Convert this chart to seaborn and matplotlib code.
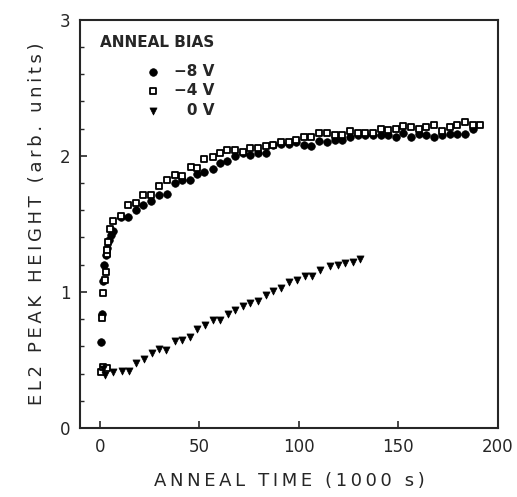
import matplotlib
matplotlib.use("Agg")
import matplotlib.pyplot as plt
from matplotlib.ticker import MultipleLocator
import seaborn as sns

# anneal time (1000 s) and EL2 peak height for each bias
t_m8 = [0.3, 1.2, 1.7, 2.2, 3.0, 3.6, 4.5, 5.5, 6.7, 10.5, 14.0, 18.0, 21.7, 25.5,
        29.5, 33.5, 37.5, 41.0, 45.0, 48.7, 52.5, 56.7, 60.5, 64.0, 68.0, 71.7,
        75.5, 79.5, 83.3, 87.0, 91.0, 95.0, 98.7, 102.5, 106.3, 110.3, 114.0,
        118.0, 121.7, 125.7, 129.5, 133.3, 137.0, 141.0, 145.0, 148.7, 152.5,
        156.3, 160.3, 164.0, 168.0, 171.7, 175.8, 179.7, 183.7, 187.5]
h_m8 = [0.63, 0.84, 1.08, 1.20, 1.27, 1.32, 1.38, 1.42, 1.45, 1.55, 1.55, 1.60,
        1.64, 1.67, 1.71, 1.72, 1.80, 1.82, 1.82, 1.87, 1.88, 1.90, 1.95, 1.96,
        2.00, 2.02, 2.01, 2.02, 2.02, 2.08, 2.09, 2.09, 2.10, 2.08, 2.07, 2.11,
        2.10, 2.12, 2.12, 2.14, 2.15, 2.15, 2.15, 2.15, 2.15, 2.14, 2.17, 2.14,
        2.16, 2.15, 2.14, 2.15, 2.16, 2.16, 2.16, 2.20]

t_m4 = [0.3, 1.5, 3.3, 1.2, 1.3, 2.5, 3.0, 3.3, 3.6, 4.0, 5.0, 6.5, 10.5, 14.3,
        18.0, 21.7, 25.8, 29.7, 33.7, 37.5, 41.0, 45.5, 48.7, 52.5, 56.7, 60.5,
        64.0, 68.0, 71.7, 75.5, 79.5, 83.3, 87.0, 91.0, 95.0, 98.7, 102.5, 106.3,
        110.3, 114.0, 118.0, 121.7, 125.7, 129.5, 133.3, 137.0, 141.0, 145.0,
        148.7, 152.5, 156.3, 160.3, 164.0, 168.0, 171.7, 175.8, 179.7, 183.7,
        187.5, 191.2]
h_m4 = [0.41, 0.45, 0.44, 0.81, 0.99, 1.09, 1.15, 1.28, 1.31, 1.37, 1.46, 1.52,
        1.56, 1.64, 1.65, 1.71, 1.71, 1.78, 1.82, 1.86, 1.85, 1.92, 1.91, 1.98,
        1.99, 2.02, 2.04, 2.04, 2.03, 2.06, 2.06, 2.07, 2.08, 2.10, 2.10, 2.12,
        2.14, 2.14, 2.17, 2.17, 2.15, 2.15, 2.18, 2.17, 2.17, 2.17, 2.20, 2.19,
        2.20, 2.22, 2.21, 2.20, 2.21, 2.23, 2.18, 2.21, 2.23, 2.25, 2.23, 2.23]

t_0 = [1.5, 2.5, 6.7, 10.8, 14.7, 18.3, 22.2, 26.0, 29.7, 33.3, 37.5, 41.3, 45.0,
       48.8, 52.7, 56.7, 60.4, 64.2, 68.0, 71.7, 75.5, 79.5, 83.3, 87.0, 91.0,
       95.0, 98.8, 102.8, 106.7, 110.5, 115.8, 119.7, 123.3, 127.2, 130.8]
h_0 = [0.43, 0.39, 0.41, 0.42, 0.42, 0.48, 0.51, 0.55, 0.58, 0.57, 0.64, 0.65,
       0.67, 0.73, 0.76, 0.79, 0.79, 0.84, 0.87, 0.90, 0.92, 0.93, 0.98, 1.01,
       1.03, 1.07, 1.09, 1.12, 1.12, 1.16, 1.19, 1.20, 1.21, 1.22, 1.24]

bias_labels = ["\u22128 V", "\u22124 V", "\u2002 0 V"]
legend_title = "ANNEAL BIAS"
x_label = "ANNEAL TIME (1000 s)"
y_label = "EL2 PEAK HEIGHT (arb. units)"


def spaced(s):
    # the original lettering is widely tracked
    return "\u2009".join(s)


sns.set_style("ticks")
plt.rcParams["font.family"] = ["DejaVu Sans"]

fig, ax = plt.subplots(figsize=(5.17, 4.97), dpi=100)
fig.subplots_adjust(left=0.155, right=0.963, top=0.96, bottom=0.139)

sns.scatterplot(x=t_m8, y=h_m8, ax=ax, marker="o", s=30, color="black",
                edgecolor="black", linewidth=0.5, label=bias_labels[0])
sns.scatterplot(x=t_m4, y=h_m4, ax=ax, marker="s", s=20, facecolor="white",
                edgecolor="black", linewidth=1.3, label=bias_labels[1])
sns.scatterplot(x=t_0, y=h_0, ax=ax, marker="v", s=26, color="black",
                edgecolor="black", linewidth=0.5, label=bias_labels[2])

ax.set_xlim(-10, 200)
ax.set_ylim(0, 3)
ax.set_xticks([0, 50, 100, 150, 200])
ax.set_yticks([0, 1, 2, 3])
ax.yaxis.set_minor_locator(MultipleLocator(0.2))
ax.tick_params(direction="in", length=5, width=1.2, labelsize=12, pad=7)
ax.tick_params(which="minor", direction="in", length=3, width=1.0)
for sp in ax.spines.values():
    sp.set_linewidth(1.5)

ax.set_xlabel(spaced(x_label), fontsize=13, labelpad=12)
ax.set_ylabel(spaced(y_label), fontsize=13, labelpad=10)

ax.text(0.048, 0.944, legend_title, transform=ax.transAxes, fontsize=11,
        fontweight="bold", ha="left", va="center")
leg = ax.legend(loc="upper left", bbox_to_anchor=(0.123, 0.908), frameon=False,
                fontsize=11, handlelength=2, handletextpad=0.35,
                labelspacing=0.31, borderaxespad=0)
for txt in leg.get_texts():
    txt.set_fontweight("bold")

fig.savefig("out.png", dpi=100)
